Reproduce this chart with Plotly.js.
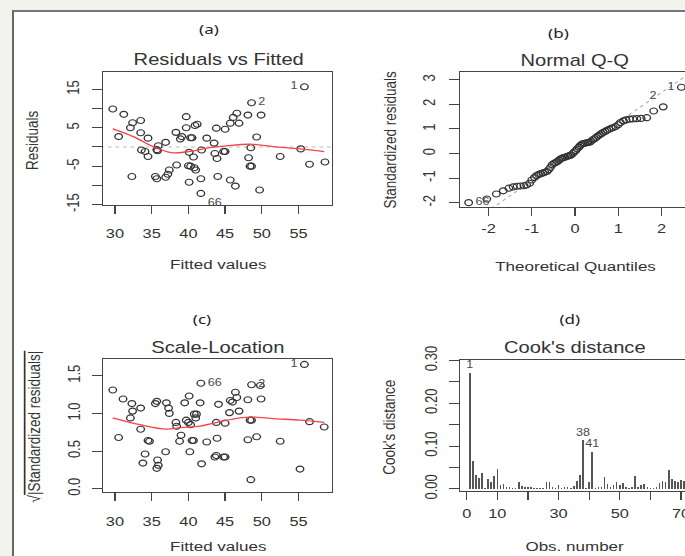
<!DOCTYPE html>
<html>
<head>
<meta charset="utf-8">
<script src="https://cdn.plot.ly/plotly-3.0.1.min.js"></script>
<style>
  html, body { margin:0; padding:0; width:685px; height:556px; overflow:hidden; background:#f3f3ee; }
  #frame { position:absolute; left:12px; top:10px; width:720px; height:600px; background:#fff;
           border-left:2px solid #666; border-top:2px solid #777; }
  #chart { position:absolute; left:0; top:0; width:560px; height:556px; transform:scaleX(1.26); transform-origin:0 0; }
</style>
</head>
<body>
<div id="frame"></div>
<div id="chart"></div>
<script>
// ---------- (a) Residuals vs Fitted ----------
const fittedA = [29.7,30.5,31.2,32.1,32.4,32.3,33.5,33.5,34.5,33.6,34.1,34.5,35.7,35.8,35.9,35.5,35.7,36.9,36.9,37.2,37.4,38.4,38.3,38.9,39.1,39.7,39.7,40.3,40.5,40.1,40.7,40.0,40.3,40.1,40.9,41.2,40.8,41.0,41.7,41.8,41.7,42.5,43.5,43.8,43.6,43.9,44.0,44.8,45.0,45.0,45.7,45.7,46.1,46.4,46.6,46.9,48.1,48.6,48.2,48.5,48.4,48.6,49.3,49.9,49.7,52.5,55.3,55.8,56.5,58.6];
const residA = [9.9,2.7,8.5,5.0,6.3,-7.7,6.9,3.7,2.3,-0.8,-1.2,-2.5,-0.7,-1.0,0.3,-7.7,-8.3,1.2,-7.9,-7.1,-6.0,-4.7,3.8,2.1,2.7,7.9,5.0,2.4,2.4,-1.4,-2.6,-4.9,-5.0,-9.2,5.6,5.9,-5.4,-6.0,-8.3,-0.8,-12.1,2.3,1.0,4.9,-1.7,-3.0,-7.7,-1.2,-1.2,4.6,-8.6,6.2,7.7,-10.2,8.8,6.2,8.3,11.5,-2.8,-0.2,-5.0,-5.0,2.6,8.3,-11.2,-2.5,-0.5,15.7,-4.5,-3.9];
const loessAx = [29.7,32.5,35.2,37.7,40.0,42.5,45.2,48.4,51.6,55.2,58.5];
const loessAy = [4.7,2.7,0.1,-1.5,-1.2,-0.3,0.3,0.7,0.1,-0.5,-1.2];
const labelsA = [{id:'1', idx:67, pos:'middle left'}, {id:'2', idx:57, pos:'middle right'}, {id:'66', idx:40, pos:'bottom right'}];

// ---------- (b) Normal Q-Q ----------
const qqTheo = [-2.46,-2.04,-1.82,-1.66,-1.53,-1.43,-1.34,-1.26,-1.18,-1.12,-1.05,-1.00,-0.94,-0.89,-0.84,-0.79,-0.74,-0.70,-0.65,-0.61,-0.57,-0.53,-0.49,-0.45,-0.41,-0.37,-0.34,-0.30,-0.27,-0.23,-0.19,-0.16,-0.12,-0.09,-0.05,-0.02,0.02,0.05,0.09,0.12,0.16,0.19,0.23,0.27,0.30,0.34,0.37,0.41,0.45,0.49,0.53,0.57,0.61,0.65,0.70,0.74,0.79,0.84,0.89,0.94,1.00,1.05,1.12,1.18,1.26,1.34,1.43,1.53,1.66,1.82,2.04,2.46];
const qqSample = [-2.0,-1.85,-1.65,-1.52,-1.41,-1.36,-1.33,-1.32,-1.31,-1.28,-1.21,-1.08,-0.98,-0.9,-0.85,-0.82,-0.79,-0.76,-0.73,-0.66,-0.57,-0.46,-0.41,-0.37,-0.33,-0.27,-0.22,-0.19,-0.16,-0.15,-0.12,-0.1,-0.08,-0.06,0.0,0.06,0.12,0.19,0.26,0.33,0.38,0.41,0.42,0.44,0.45,0.46,0.5,0.56,0.6,0.65,0.71,0.76,0.81,0.86,0.9,0.95,0.99,1.03,1.06,1.1,1.17,1.26,1.33,1.37,1.40,1.41,1.42,1.43,1.46,1.73,1.9,2.7];
const qqIntercept = 0.08, qqSlope = 1.2;
const labelsB = [{id:'66', idx:0, pos:'middle right'}, {id:'2', idx:70, pos:'top left'}, {id:'1', idx:71, pos:'middle left'}];

// ---------- (c) Scale-Location ----------
const fittedC = [29.7,30.5,31.1,32.3,32.4,32.1,33.5,33.5,33.8,34.1,34.5,34.7,35.5,35.7,35.8,35.7,35.9,37.0,37.3,37.4,36.9,38.3,38.4,38.8,39.0,39.5,40.1,39.7,40.0,40.3,40.2,40.5,40.7,40.8,41.1,41.0,41.6,41.7,41.8,42.5,43.8,43.6,43.9,43.8,44.1,45.0,44.8,45.0,45.6,45.7,46.0,46.4,46.6,46.9,48.1,48.4,48.6,48.1,48.5,48.6,49.8,49.3,49.9,52.5,55.2,55.8,56.5,58.5];
const sqrtStdC = [1.31,0.68,1.19,1.13,1.03,0.94,1.07,0.79,0.34,0.46,0.64,0.63,1.13,1.16,0.38,0.27,0.31,1.14,1.07,1.0,0.49,0.88,0.83,0.63,0.71,1.14,1.23,0.91,0.88,0.85,0.49,0.64,0.64,0.99,0.99,0.94,1.14,1.40,0.33,0.62,0.44,0.42,0.67,0.88,1.12,0.87,0.42,0.42,1.01,1.17,1.15,1.28,1.21,1.03,1.18,0.91,0.91,0.65,0.12,1.38,1.37,0.69,1.19,0.63,0.26,1.65,0.89,0.82];
const loessCx = [29.7,33.4,37.0,38.9,41.6,43.9,47.0,48.9,51.6,55.2,58.5];
const loessCy = [0.94,0.85,0.79,0.81,0.83,0.88,0.94,0.95,0.93,0.91,0.88];
const labelsC = [{id:'66', idx:37, pos:'middle right'}, {id:'2', idx:59, pos:'middle right'}, {id:'1', idx:65, pos:'middle left'}];

// ---------- (d) Cook's distance ----------
const cookD = [0.271,0.066,0.033,0.025,0.037,0.001,0.023,0.016,0.031,0.047,0.008,0.012,0.005,0.004,0.003,0.002,0.017,0.006,0.005,0.005,0.004,0.002,0.002,0.002,0.002,0.017,0.017,0.004,0.002,0.010,0.003,0.005,0.005,0.003,0.006,0.019,0.033,0.113,0.002,0.016,0.086,0.003,0.005,0.005,0.027,0.012,0.004,0.009,0.017,0.008,0.013,0.005,0.002,0.004,0.030,0.004,0.008,0.011,0.004,0.002,0.002,0.005,0.013,0.019,0.016,0.045,0.022,0.019,0.016,0.021,0.018,0.010];
const obsNumber = cookD.map((_, i) => i + 1);
const labelsD = [{id:'1', idx:0}, {id:'38', idx:37}, {id:'41', idx:40}];

// tick labels
const ticksAy = [-15,-10,-5,0,5,10,15], ticksAyText = ['-15','','-5','','5','','15'];
const ticksFit = [30,35,40,45,50,55], ticksFitText = ['30','35','40','45','50','55'];
const ticksBx = [-2,-1,0,1,2], ticksBxText = ['-2','-1','0','1','2'];
const ticksBy = [-2,-1,0,1,2,3], ticksByText = ['-2','-1','0','1','2','3'];
const ticksCy = [0,0.5,1,1.5], ticksCyText = ['0.0','0.5','1.0','1.5'];
const ticksDx = [0,10,20,30,40,50,60,70], ticksDxText = ['0','10','','30','','50','','70'];
const ticksDy = [0,0.05,0.1,0.15,0.2,0.25,0.3], ticksDyText = ['0.00','','0.10','','0.20','','0.30'];

// ---------- drawing ----------
const S = 1.26, FW = 560 * S, H = 556;
const px = X => X / FW, py = Y => 1 - Y / H;
const INK = '#333';
const FONT = 'Liberation Sans, Arial, sans-serif';

function circles(x, y, xa, ya) {
  return {x, y, xaxis:xa, yaxis:ya, type:'scatter', mode:'markers', hoverinfo:'skip',
    marker:{symbol:'circle-open', size:6, color:INK, line:{width:1.1, color:INK}}};
}
function labelTrace(list, xs, ys, xa, ya, fixedPos) {
  return {x:list.map(l => xs[l.idx]), y:list.map(l => ys[l.idx]), text:list.map(l => l.id),
    textposition:list.map(l => fixedPos || l.pos), mode:'markers+text', type:'scatter', xaxis:xa, yaxis:ya,
    marker:{size:fixedPos ? 2 : 7, color:'rgba(0,0,0,0)'},
    textfont:{family:FONT, size:10, color:'#4a4a4a'}, hoverinfo:'skip', cliponaxis:false};
}

const data = [
  {x:[28, 60], y:[0, 0], xaxis:'x', yaxis:'y', mode:'lines', line:{color:'#bbb', width:1, dash:'dot'}, hoverinfo:'skip'},
  circles(fittedA, residA, 'x', 'y'),
  {x:loessAx, y:loessAy, xaxis:'x', yaxis:'y', mode:'lines', line:{color:'#f24545', width:1.3, shape:'spline'}, hoverinfo:'skip'},
  labelTrace(labelsA, fittedA, residA, 'x', 'y'),

  {x:[-3, 3], y:[qqIntercept - 3*qqSlope, qqIntercept + 3*qqSlope], xaxis:'x2', yaxis:'y2', mode:'lines', line:{color:'#aaa', width:1, dash:'dot'}, hoverinfo:'skip'},
  circles(qqTheo, qqSample, 'x2', 'y2'),
  labelTrace(labelsB, qqTheo, qqSample, 'x2', 'y2'),

  circles(fittedC, sqrtStdC, 'x3', 'y3'),
  {x:loessCx, y:loessCy, xaxis:'x3', yaxis:'y3', mode:'lines', line:{color:'#f24545', width:1.3, shape:'spline'}, hoverinfo:'skip'},
  labelTrace(labelsC, fittedC, sqrtStdC, 'x3', 'y3'),

  {x:obsNumber, y:cookD, xaxis:'x4', yaxis:'y4', type:'bar', width:0.5, marker:{color:'#555', line:{width:0}}, hoverinfo:'skip'},
  labelTrace(labelsD, obsNumber, cookD, 'x4', 'y4', 'top center')
];

function ax(o) {
  return Object.assign({showgrid:false, zeroline:false, showline:true, mirror:true, linecolor:'#444', linewidth:1,
    ticks:'outside', tickcolor:'#444', tickwidth:1, tickmode:'array', fixedrange:true,
    tickfont:{family:FONT, size:13, color:INK}}, o);
}
const xA = [px(103.3), px(332)], xB = [px(460), px(690)], xD = [px(460), px(696)];
const layout = {
  width:560, height:556, margin:{l:0, r:0, t:0, b:0}, showlegend:false,
  paper_bgcolor:'rgba(0,0,0,0)', plot_bgcolor:'rgba(0,0,0,0)', bargap:0,
  font:{family:FONT, color:INK},
  xaxis: ax({domain:xA, range:[28.41, 59.56], anchor:'y', tickvals:ticksFit, ticktext:ticksFitText, ticklen:8, ticklabelstandoff:8}),
  yaxis: ax({domain:[py(205.3), py(72)], range:[-15.2, 19.53], anchor:'x', tickvals:ticksAy, ticktext:ticksAyText, ticklen:8, tickangle:-90, ticklabelstandoff:5}),
  xaxis2: ax({domain:xB, range:[-2.66, 2.66], anchor:'y2', tickvals:ticksBx, ticktext:ticksBxText, ticklen:8, ticklabelstandoff:1}),
  yaxis2: ax({domain:[py(207.3), py(72)], range:[-2.19, 3.32], anchor:'x2', tickvals:ticksBy, ticktext:ticksByText, ticklen:8, tickangle:-90, ticklabelstandoff:6}),
  xaxis3: ax({domain:xA, range:[28.41, 59.56], anchor:'y3', tickvals:ticksFit, ticktext:ticksFitText, ticklen:8, ticklabelstandoff:9}),
  yaxis3: ax({domain:[py(492), py(358.7)], range:[-0.044, 1.726], anchor:'x3', tickvals:ticksCy, ticktext:ticksCyText, ticklen:8, tickangle:-90, ticklabelstandoff:4}),
  xaxis4: ax({domain:xD, range:[-2.19, 74.9], anchor:'y4', tickvals:ticksDx, ticktext:ticksDxText, ticklen:8, ticklabelstandoff:3}),
  yaxis4: ax({domain:[py(490.5), py(360)], range:[-0.004, 0.301], anchor:'x4', tickvals:ticksDy, ticktext:ticksDyText, ticklen:8, tickangle:-90, ticklabelstandoff:4}),
  annotations: []
};
function note(text, X, Y, size, opts) {
  layout.annotations.push(Object.assign({text, x:px(X), y:py(Y), xref:'paper', yref:'paper', showarrow:false,
    xanchor:'center', yanchor:'middle', font:{family:FONT, size, color:INK}}, opts || {}));
}
const PF = 'Noto Sans, Open Sans, sans-serif';
note('(a)', 209, 29, 13.5, {font:{family:PF, size:13.5, color:'#222'}});
note('(b)', 558, 33, 13.5, {font:{family:PF, size:13.5, color:'#222'}});
note('(c)', 201.7, 319.3, 13.5, {font:{family:PF, size:13.5, color:'#222'}});
note('(d)', 570, 319.3, 13.5, {font:{family:PF, size:13.5, color:'#222'}});
note('Residuals vs Fitted', 218.4, 59.7, 16);
note('Normal Q-Q', 575, 60, 16);
note('Scale-Location', 218, 347.3, 16);
note("Cook's distance", 575, 347.3, 16);
note('Fitted values', 218.7, 265, 13.5);
note('Theoretical Quantiles', 576, 266.7, 13.5);
note('Fitted values', 218, 546.5, 13.5);
note('Obs. number', 575, 546.5, 13.5);
note('Residuals', 33, 139.7, 13.5, {textangle:-90});
note('Standardized residuals', 390, 140, 13.5, {textangle:-90});
note('\u221A<span style="text-decoration:overline">|Standardized residuals|</span>', 35, 426.7, 13.5, {textangle:-90});
note("Cook's distance", 389.3, 426.7, 13.5, {textangle:-90});

Plotly.newPlot('chart', data, layout, {staticPlot:true, displayModeBar:false});
</script>
</body>
</html>
